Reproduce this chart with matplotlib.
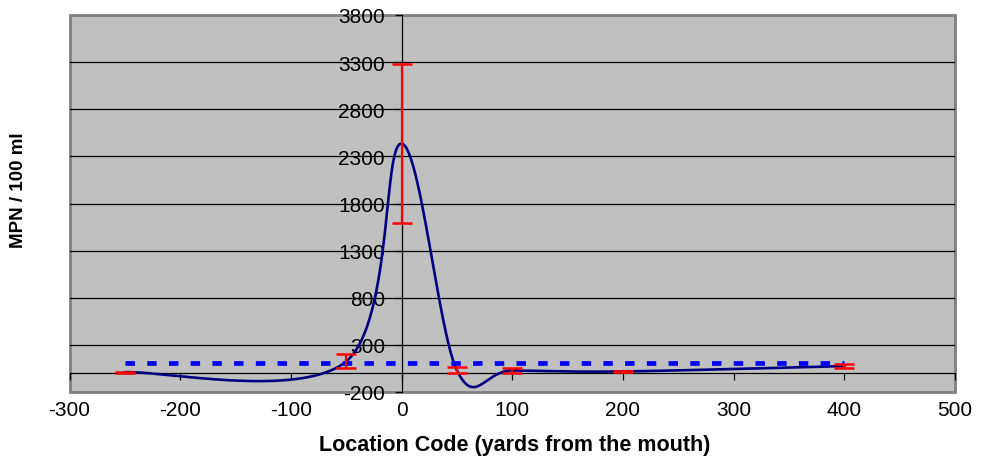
import numpy as np
import matplotlib
matplotlib.use("Agg")
import matplotlib.pyplot as plt

plt.rcParams['font.family'] = ['Liberation Sans', 'DejaVu Sans']

# sampling locations (yards from the mouth) and mean MPN / 100 ml
locations = [-250, -50, 0, 50, 100, 200, 400]
mpn_mean = [10, 125, 2435, 30, 28, 18, 75]
mpn_err = [6, 75, 840, 30, 26, 5, 20]

# single-sample standard line
standard = 104
standard_x = [-250, 400]

xticks = [-300, -200, -100, 0, 100, 200, 300, 400, 500]
yticks = [-200, 300, 800, 1300, 1800, 2300, 2800, 3300, 3800]


def smooth(x, y, n=60, f=1/6.):
    # Excel-like smoothed line: cubic bezier through every point
    p = np.column_stack([x, y]).astype(float)
    out = []
    for i in range(len(p) - 1):
        p0 = p[i - 1] if i > 0 else p[i]
        p1, p2 = p[i], p[i + 1]
        p3 = p[i + 2] if i + 2 < len(p) else p[i + 1]
        c1 = p1 + (p2 - p0) * f
        c2 = p2 - (p3 - p1) * f
        t = np.linspace(0, 1, n)[:, None]
        seg = ((1 - t) ** 3 * p1 + 3 * (1 - t) ** 2 * t * c1
               + 3 * (1 - t) * t ** 2 * c2 + t ** 3 * p2)
        out.append(seg if i == 0 else seg[1:])
    out = np.vstack(out)
    return out[:, 0], out[:, 1]


fig = plt.figure(figsize=(9.81, 4.64), dpi=100)
ax = fig.add_axes([69.5 / 981, 1 - 393 / 464, 885.5 / 981, 377 / 464])
ax.set_facecolor('#c0c0c0')
ax.patch.set_edgecolor('#808080')
ax.patch.set_linewidth(2)

ax.set_xlim(-300, 500)
ax.set_ylim(-200, 3800)

# gridlines (plot border covers the first and last)
for yt in yticks[1:-1]:
    ax.axhline(yt, color='black', lw=0.9, zorder=1)

sx, sy = smooth(locations, mpn_mean)
ax.plot(sx, sy, color='#000080', lw=1.9, zorder=3)
ax.plot(standard_x, [standard, standard], color='#0000ff', lw=3.4,
        dashes=(2.0, 2.6), zorder=4, solid_capstyle='butt', dash_capstyle='butt')
ax.errorbar(locations, mpn_mean, yerr=mpn_err, fmt='none', ecolor='#ff0000',
            elinewidth=1.6, capsize=7.5, capthick=1.8, zorder=5)

for s in ['top', 'right']:
    ax.spines[s].set_visible(False)
ax.spines['left'].set_position(('data', 0))
ax.spines['bottom'].set_position(('data', 0))
ax.spines['left'].set_linewidth(0.9)
ax.spines['bottom'].set_linewidth(0.9)
ax.spines['left'].set_zorder(2)
ax.spines['bottom'].set_zorder(2)

ax.set_yticks(yticks)
ax.set_yticklabels([str(v) for v in yticks])
ax.tick_params(axis='y', direction='out', length=5, width=0.9, pad=7, labelsize=15)
ax.set_xticks(xticks)
ax.tick_params(axis='x', direction='out', length=5, width=0.9, labelbottom=False)

sec = ax.secondary_xaxis('bottom')
sec.set_xticks(xticks)
sec.set_xticklabels([str(v) for v in xticks])
sec.tick_params(length=0, pad=6, labelsize=15)
sec.spines['bottom'].set_visible(False)

fig.text(515 / 981, 1 - 451 / 464, 'Location Code (yards from the mouth)',
         ha='center', va='baseline', fontsize=15.5, fontweight='bold')
fig.text(19 / 981, 1 - 190 / 464, 'MPN / 100 ml', ha='center', va='center',
         rotation=90, fontsize=13.5, fontweight='bold')

fig.savefig('out.png', dpi=100)
